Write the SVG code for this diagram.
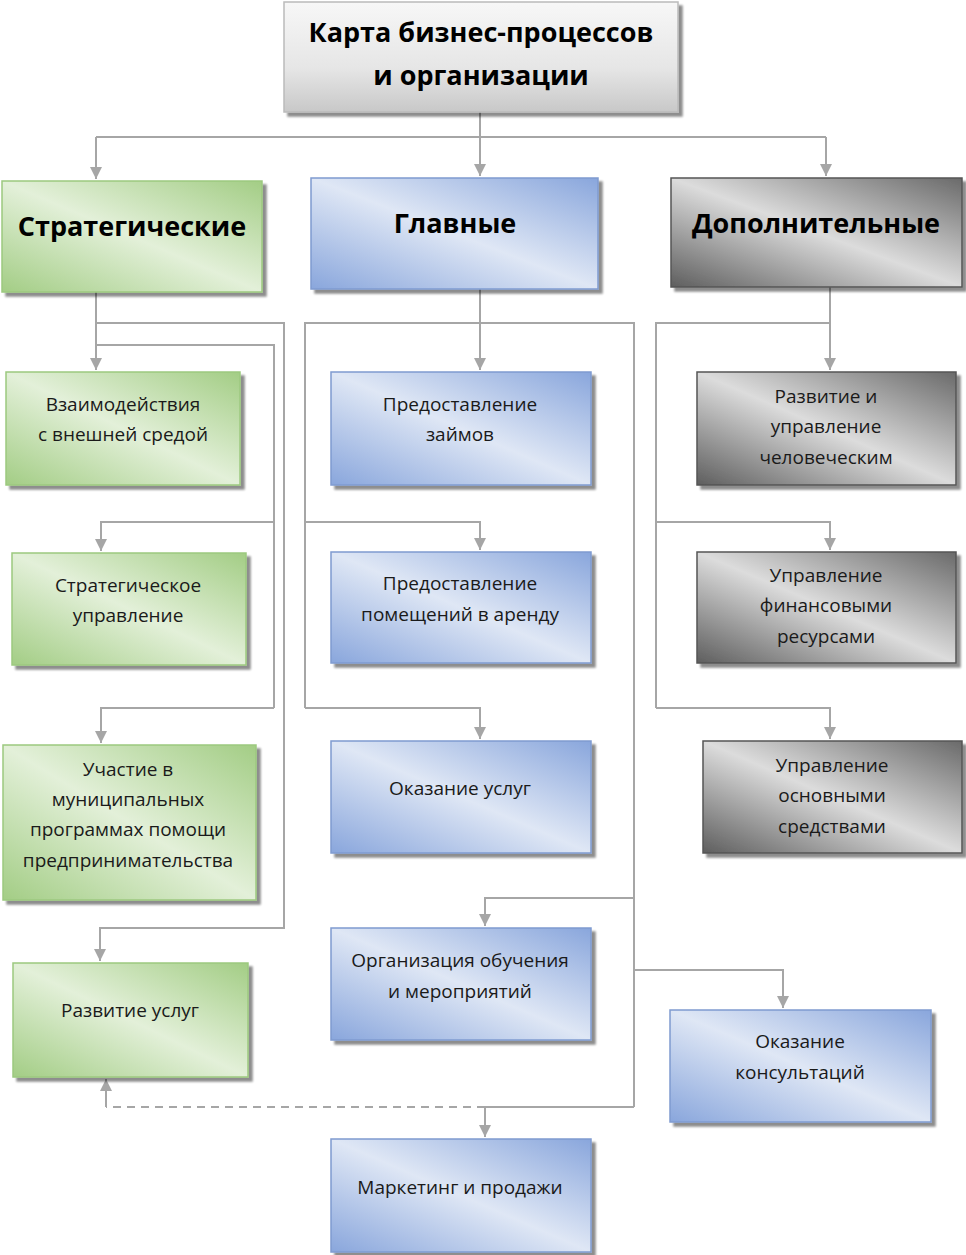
<svg xmlns="http://www.w3.org/2000/svg" width="966" height="1255" viewBox="0 0 966 1255">
<style>
.conn{fill:none;stroke:#a6a6a6;stroke-width:2}
.dash{fill:none;stroke:#a6a6a6;stroke-width:2;stroke-dasharray:8 6}
.t{font-family:"Open Sans","Noto Sans",sans-serif;font-size:19px;fill:#1a1a1a;text-anchor:middle}
.h{font-family:"Open Sans","Noto Sans",sans-serif;font-size:27px;font-weight:bold;fill:#000;text-anchor:middle}
.green{fill:url(#gGreen);stroke:#9cc97f;stroke-width:1.5;filter:url(#sh)}
.blue{fill:url(#gBlue);stroke:#7f9bd0;stroke-width:1.5;filter:url(#sh)}
.dgray{fill:url(#gDark);stroke:#555;stroke-width:1.5;filter:url(#sh)}
.lgray{fill:url(#gLight);stroke:#bbb;stroke-width:1.5;filter:url(#sh)}
</style>
<defs>
<filter id="sh" x="-5%" y="-5%" width="115%" height="120%">
<feGaussianBlur in="SourceAlpha" stdDeviation="1.2"/>
<feOffset dx="4" dy="4" result="o"/>
<feComponentTransfer><feFuncA type="linear" slope="0.45"/></feComponentTransfer>
<feMerge><feMergeNode/><feMergeNode in="SourceGraphic"/></feMerge>
</filter>
<linearGradient id="gGreen" x1="0" y1="1" x2="1" y2="0">
<stop offset="0" stop-color="#a3cd85"/><stop offset="0.5" stop-color="#e3f0d9"/><stop offset="1" stop-color="#a3cd85"/>
</linearGradient>
<linearGradient id="gBlue" x1="0" y1="1" x2="1" y2="0">
<stop offset="0" stop-color="#89a6dc"/><stop offset="0.5" stop-color="#dfe7f5"/><stop offset="1" stop-color="#89a6dc"/>
</linearGradient>
<linearGradient id="gDark" x1="0" y1="1" x2="1" y2="0">
<stop offset="0" stop-color="#5e5e5e"/><stop offset="0.5" stop-color="#dcdcdc"/><stop offset="1" stop-color="#6a6a6a"/>
</linearGradient>
<linearGradient id="gLight" x1="0" y1="0" x2="0" y2="1">
<stop offset="0" stop-color="#f7f7f7"/><stop offset="0.6" stop-color="#e6e6e6"/><stop offset="1" stop-color="#c8c8c8"/>
</linearGradient>
<marker id="arr" markerUnits="userSpaceOnUse" markerWidth="14" markerHeight="14" refX="12" refY="6" orient="auto">
<path d="M0,0 L12,6 L0,12 Z" fill="#a6a6a6"/>
</marker>
</defs>

<g id="connectors">
<path class="conn" d="M480,112 V176" marker-end="url(#arr)"/>
<path class="conn" d="M96,137 H826"/>
<path class="conn" d="M96,137 V179" marker-end="url(#arr)"/>
<path class="conn" d="M826,137 V176" marker-end="url(#arr)"/>
<!-- left -->
<path class="conn" d="M96,292 V370" marker-end="url(#arr)"/>
<path class="conn" d="M96,323 H284 V928 H100 V961" marker-end="url(#arr)"/>
<path class="conn" d="M96,345 H274 V708"/>
<path class="conn" d="M274,522 H101 V551" marker-end="url(#arr)"/>
<path class="conn" d="M274,708 H101 V743" marker-end="url(#arr)"/>
<!-- middle -->
<path class="conn" d="M480,289 V370" marker-end="url(#arr)"/>
<path class="conn" d="M305,708 V323 H634 V1107"/>
<path class="conn" d="M305,522 H480 V550" marker-end="url(#arr)"/>
<path class="conn" d="M305,708 H480 V739" marker-end="url(#arr)"/>
<path class="conn" d="M634,898 H485 V926" marker-end="url(#arr)"/>
<path class="conn" d="M634,970 H783 V1008" marker-end="url(#arr)"/>
<path class="conn" d="M634,1107 H485 V1137" marker-end="url(#arr)"/>
<path class="dash" d="M485,1107 H106"/>
<path class="conn" d="M106,1107 V1079" marker-end="url(#arr)"/>
<!-- right -->
<path class="conn" d="M830,287 V370" marker-end="url(#arr)"/>
<path class="conn" d="M830,323 H656 V708"/>
<path class="conn" d="M656,522 H830 V550" marker-end="url(#arr)"/>
<path class="conn" d="M656,708 H830 V739" marker-end="url(#arr)"/>
</g>

<g id="title">
<rect class="lgray" x="284" y="2" width="394" height="110"/>
<text class="h" x="481" y="42">Карта бизнес-процессов</text>
<text class="h" x="481" y="85">и организации</text>
</g>

<g id="strategic">
<rect class="green" x="2" y="181" width="260" height="111"/>
<text class="h" x="132" y="236">Стратегические</text>
</g>
<g id="main">
<rect class="blue" x="311" y="178" width="287" height="111"/>
<text class="h" x="455" y="233">Главные</text>
</g>
<g id="additional">
<rect class="dgray" x="671" y="178" width="291" height="109"/>
<text class="h" x="816" y="233">Дополнительные</text>
</g>

<g id="n-vzaim">
<rect class="green" x="6" y="372" width="234" height="113"/>
<text class="t" x="123" y="411">Взаимодействия</text>
<text class="t" x="123" y="441">с внешней средой</text>
</g>
<g id="n-strat-upr">
<rect class="green" x="12" y="553" width="234" height="112"/>
<text class="t" x="128" y="592">Стратегическое</text>
<text class="t" x="128" y="622">управление</text>
</g>
<g id="n-uchastie">
<rect class="green" x="3" y="745" width="253" height="155"/>
<text class="t" x="128" y="776">Участие в</text>
<text class="t" x="128" y="806">муниципальных</text>
<text class="t" x="128" y="836">программах помощи</text>
<text class="t" x="128" y="867">предпринимательства</text>
</g>
<g id="n-razv-uslug">
<rect class="green" x="13" y="963" width="235" height="114"/>
<text class="t" x="130" y="1017">Развитие услуг</text>
</g>

<g id="n-zaimy">
<rect class="blue" x="331" y="372" width="260" height="113"/>
<text class="t" x="460" y="411">Предоставление</text>
<text class="t" x="460" y="441">займов</text>
</g>
<g id="n-arenda">
<rect class="blue" x="331" y="552" width="260" height="111"/>
<text class="t" x="460" y="590">Предоставление</text>
<text class="t" x="460" y="621">помещений в аренду</text>
</g>
<g id="n-uslugi">
<rect class="blue" x="331" y="741" width="260" height="112"/>
<text class="t" x="460" y="795">Оказание услуг</text>
</g>
<g id="n-obuchenie">
<rect class="blue" x="331" y="928" width="260" height="112"/>
<text class="t" x="460" y="967">Организация обучения</text>
<text class="t" x="460" y="998">и мероприятий</text>
</g>
<g id="n-konsult">
<rect class="blue" x="670" y="1010" width="261" height="112"/>
<text class="t" x="800" y="1048">Оказание</text>
<text class="t" x="800" y="1079">консультаций</text>
</g>
<g id="n-marketing">
<rect class="blue" x="331" y="1139" width="260" height="113"/>
<text class="t" x="460" y="1194">Маркетинг и продажи</text>
</g>

<g id="n-kadry">
<rect class="dgray" x="697" y="372" width="259" height="113"/>
<text class="t" x="826" y="403">Развитие и</text>
<text class="t" x="826" y="433">управление</text>
<text class="t" x="826" y="464">человеческим</text>
</g>
<g id="n-finansy">
<rect class="dgray" x="697" y="552" width="259" height="111"/>
<text class="t" x="826" y="582">Управление</text>
<text class="t" x="826" y="612">финансовыми</text>
<text class="t" x="826" y="643">ресурсами</text>
</g>
<g id="n-os">
<rect class="dgray" x="703" y="741" width="259" height="112"/>
<text class="t" x="832" y="772">Управление</text>
<text class="t" x="832" y="802">основными</text>
<text class="t" x="832" y="833">средствами</text>
</g>
</svg>
